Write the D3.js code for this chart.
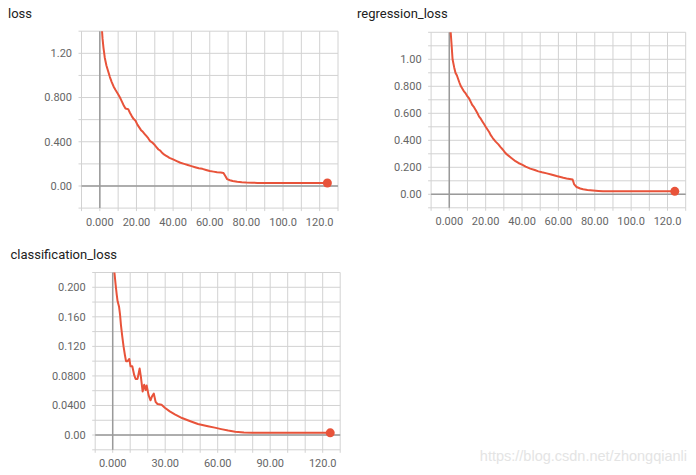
<!DOCTYPE html>
<html><head><meta charset="utf-8">
<script src="https://cdn.jsdelivr.net/npm/d3@7/dist/d3.min.js"></script>
<style>
body{margin:0;background:#fff;}
svg{display:block;font-family:Roboto,"Noto Sans",sans-serif;}
</style>
</head><body>
<svg id="chart" width="696" height="475"></svg>
<script>
// ---------- data ----------
const titles = ["loss", "regression_loss", "classification_loss"];

const lossSteps  = [0.5,1,1.5,2,2.7,3.6,4.5,5.5,6.5,7.5,8.5,10,11,12,13,14,15.5,16.5,17.5,18.5,19.5,20.5,21.5,22.5,23.5,24.5,25.5,26.5,27.5,28.5,30,31,32,33,34,35,36,37,38,40,42,44,46,48,50,52,54,56,58,60,62,64,66,67.5,68.5,69.5,71,72.5,75,77.5,80,83,86,90,95,100,105,110,115,120,124.2];
const lossValues = [1.62,1.45,1.33,1.25,1.16,1.09,1.04,0.985,0.94,0.90,0.87,0.83,0.80,0.765,0.73,0.70,0.695,0.66,0.63,0.605,0.59,0.555,0.53,0.505,0.49,0.47,0.45,0.43,0.405,0.395,0.37,0.35,0.33,0.32,0.30,0.285,0.275,0.265,0.255,0.24,0.225,0.21,0.20,0.19,0.18,0.17,0.16,0.155,0.145,0.135,0.13,0.125,0.122,0.118,0.09,0.062,0.052,0.045,0.038,0.034,0.031,0.029,0.028,0.027,0.027,0.027,0.027,0.027,0.027,0.027,0.027];

const regSteps  = [0.5,1.3,1.8,2.7,3.4,4.2,5.5,6.4,7.3,8.2,9.1,10,10.9,11.8,12.7,13.6,14.5,15.5,16.4,17.3,18.2,19.1,20,21,22,22.7,24,25.5,27,28.2,29.5,30.9,32.2,33.6,35,36.4,38,40,42,44.5,47,49,51,53.6,56,59,62.7,64.5,67.8,68.7,70,72,73.6,76,79,82,84.5,90,100,110,120,124];
const regValues = [1.25,1.10,1.00,0.94,0.90,0.88,0.83,0.80,0.78,0.76,0.745,0.725,0.71,0.685,0.66,0.645,0.625,0.60,0.575,0.56,0.54,0.52,0.50,0.48,0.46,0.44,0.415,0.39,0.37,0.35,0.33,0.305,0.29,0.275,0.26,0.245,0.232,0.22,0.205,0.19,0.18,0.17,0.163,0.155,0.147,0.135,0.122,0.117,0.11,0.073,0.054,0.043,0.037,0.032,0.029,0.025,0.022,0.022,0.022,0.022,0.022,0.022];

const clsSteps  = [0.5,0.9,1.7,2.3,2.8,3.6,4.2,4.7,5.5,6.2,7,7.6,8.5,9.5,10.2,11.2,12.3,13.1,14.2,15.4,16.1,17.1,18,18.8,19.4,20.5,21.6,22.4,23.5,24.5,25.6,27.9,29.8,32.6,35.5,39.6,44,48.7,54.4,58.3,62,66,70,75,80,90,100,110,120,124.3];
const clsValues = [0.235,0.222,0.203,0.19,0.181,0.174,0.163,0.149,0.133,0.12,0.108,0.100,0.100,0.103,0.093,0.093,0.081,0.076,0.076,0.090,0.079,0.059,0.068,0.061,0.067,0.054,0.047,0.052,0.056,0.045,0.042,0.041,0.037,0.032,0.028,0.023,0.019,0.015,0.012,0.010,0.008,0.006,0.0045,0.0035,0.003,0.003,0.003,0.003,0.003,0.003];

const lossXTicks = [0,20,40,60,80,100,120];
const regXTicks  = [0,20,40,60,80,100,120];
const clsXTicks  = [0,30,60,90,120];
const lossYTicks = [0,0.4,0.8,1.2];
const regYTicks  = [0,0.2,0.4,0.6,0.8,1.0];
const clsYTicks  = [0,0.04,0.08,0.12,0.16,0.2];

const watermark = "https://blog.csdn.net/zhongqianli";

// ---------- layout ----------
const panels = [
  {title:titles[0], steps:lossSteps, values:lossValues, xTicks:lossXTicks, yTicks:lossYTicks,
   xd:[-10,130], yd:[-0.2,1.4], xr:[81.5,338], yr:[208.1,31.2], xGrid:10, yGrid:0.2, tx:8, ty:18},
  {title:titles[1], steps:regSteps, values:regValues, xTicks:regXTicks, yTicks:regYTicks,
   xd:[-10,130], yd:[-0.1,1.2], xr:[431.1,685.7], yr:[207.8,32.3], xGrid:10, yGrid:0.1, tx:357, ty:18},
  {title:titles[2], steps:clsSteps, values:clsValues, xTicks:clsXTicks, yTicks:clsYTicks,
   xd:[-10,130], yd:[-0.02,0.22], xr:[95.2,340.2], yr:[449.8,272.5], xGrid:10, yGrid:0.02, tx:10.5, ty:258.5}
];

const LINE = "#e8533a";
const GRID = "#d2d2d2";
const AXIS = "#9a9a9a";
const TICKTXT = "#666";

const svg = d3.select("#chart");
const fx = d3.format(".4r");
const fy = d3.format(".3r");

panels.forEach((p, i) => {
  const x = d3.scaleLinear().domain(p.xd).range(p.xr);
  const y = d3.scaleLinear().domain(p.yd).range(p.yr);
  const g = svg.append("g");
  const [x0, x1] = p.xr, [y1, y0] = p.yr;

  // title
  g.append("text").attr("x", p.tx).attr("y", p.ty).attr("font-size", 13).attr("fill", "#212121").text(p.title);

  // grid
  const nx = Math.round((p.xd[1]-p.xd[0])/p.xGrid);
  const xs = d3.range(nx+1).map(k => p.xd[0] + k*p.xGrid);
  const ny = Math.round((p.yd[1]-p.yd[0])/p.yGrid);
  const ys = d3.range(ny+1).map(k => +(p.yd[0] + k*p.yGrid).toFixed(6));

  g.selectAll(".vg").data(xs).join("line")
    .attr("x1", d => x(d)).attr("x2", d => x(d))
    .attr("y1", y0).attr("y2", y1 + 3)
    .attr("stroke", GRID).attr("stroke-width", 1);
  g.selectAll(".hg").data(ys).join("line")
    .attr("x1", x0 - 3).attr("x2", x1)
    .attr("y1", d => y(d)).attr("y2", d => y(d))
    .attr("stroke", GRID).attr("stroke-width", 1);

  // zero axes
  g.append("line").attr("x1", x(0)).attr("x2", x(0)).attr("y1", y0).attr("y2", y1)
    .attr("stroke", AXIS).attr("stroke-width", 1.5);
  g.append("line").attr("x1", x0).attr("x2", x1).attr("y1", y(0)).attr("y2", y(0))
    .attr("stroke", AXIS).attr("stroke-width", 1.5);

  // tick labels
  g.selectAll(".xl").data(p.xTicks).join("text")
    .attr("x", d => x(d)).attr("y", y1 + 17.5)
    .attr("text-anchor", "middle").attr("font-size", 11).attr("fill", TICKTXT)
    .text(d => fx(d));
  g.selectAll(".yl").data(p.yTicks).join("text")
    .attr("x", x0 - 9.5).attr("y", d => y(d)).attr("dy", "0.36em")
    .attr("text-anchor", "end").attr("font-size", 11).attr("fill", TICKTXT)
    .text(d => fy(d));

  // clip
  const cid = "clip" + i;
  svg.append("clipPath").attr("id", cid).append("rect")
    .attr("x", x0).attr("y", y0).attr("width", x1 - x0).attr("height", y1 - y0);

  const pts = p.steps.map((s, k) => [s, p.values[k]]);
  const line = d3.line().x(d => x(d[0])).y(d => y(d[1]));
  g.append("path").attr("clip-path", `url(#${cid})`).attr("d", line(pts))
    .attr("fill", "none").attr("stroke", LINE).attr("stroke-width", 2)
    .attr("stroke-linejoin", "round");
  const last = pts[pts.length - 1];
  g.append("circle").attr("cx", x(last[0])).attr("cy", y(last[1])).attr("r", 4.5).attr("fill", LINE);
});

svg.append("text").attr("x", 687).attr("y", 461).attr("text-anchor", "end")
  .attr("font-family", "'Liberation Sans', Arial, sans-serif").attr("font-size", 14.5)
  .attr("fill", "#e4e4e4").text(watermark);
</script>
</body></html>
